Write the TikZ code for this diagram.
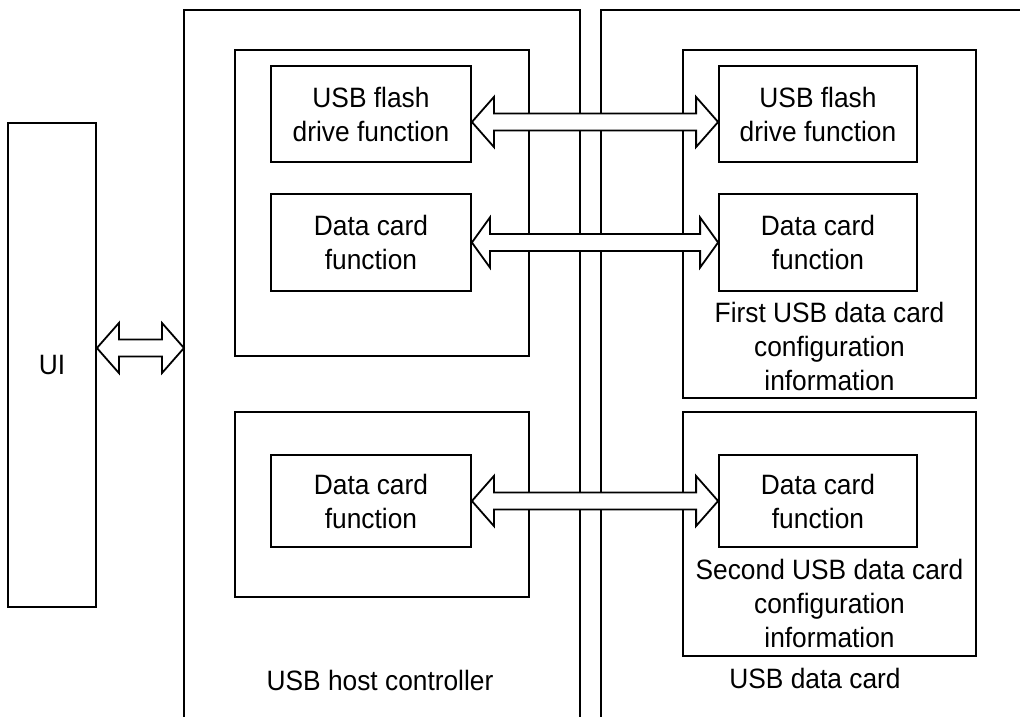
\documentclass[tikz,border=0pt]{standalone}
\usepackage{fontspec}
\setmainfont{Liberation Sans}[FakeStretch=0.94]
\usetikzlibrary{calc}
\def\ahl{22}
\def\ahw{25}
\def\asw{8.5}
\def\dblarrow(#1)(#2){\draw[arrowbody] (#1) -- ++(\ahl,-\ahw) -- ++(0,\ahw-\asw) -- ($(#2)+(-\ahl,-\asw)$) -- ++(0,\asw-\ahw) -- (#2) -- ++(-\ahl,\ahw) -- ++(0,\asw-\ahw) -- ($(#1)+(\ahl,\asw)$) -- ++(0,\ahw-\asw) -- cycle;}
\tikzset{
  frame/.style={line width=1.8pt},
  box/.style={draw, line width=1.8pt, inner sep=0pt, align=center},
  txt/.style={align=center, inner sep=0pt},
  arrowbody/.style={draw, fill=white, line width=1.8pt, line join=miter}
}
\begin{document}
\begin{tikzpicture}[x=1pt, y=-1pt, font=\fontsize{28}{34}\selectfont]
			%%%%% START %%%%%
			\useasboundingbox (0,0) rectangle (1020,716);
			\clip (0,0) rectangle (1020,716);
			
			% outer frames, open at the bottom
			\coordinate (hc sw) at (184,730);
			\coordinate (hc nw) at (184,10);
			\coordinate (hc ne) at (580,10);
			\coordinate (hc se) at (580,730);
			\coordinate (dc sw) at (601,730);
			\coordinate (dc nw) at (601,10);
			\coordinate (dc ne) at (1030,10);
			\draw[frame] (hc sw) -- (hc nw) -- (hc ne) -- (hc se);
			\draw[frame] (dc sw) -- (dc nw) -- (dc ne);
			
			\node[box, minimum width=88, minimum height=484] (ui) at (52,365) {UI};
			
			% host side
			\node[box, minimum width=294, minimum height=306] (hg1) at (382,203) {};
			\node[box, minimum width=200, minimum height=96] (hflash) at (371,114) {USB flash\\drive function};
			\node[box, minimum width=200, minimum height=97] (hdata1) at (371,242.5) {Data card\\function};
			\node[box, minimum width=294, minimum height=185] (hg2) at (382,504.5) {};
			\node[box, minimum width=200, minimum height=92] (hdata2) at (371,501) {Data card\\function};
			\node[txt] (hclabel) at (380,680) {USB host controller};
			
			% data card side
			\node[box, minimum width=293, minimum height=348] (dg1) at (829.5,224) {};
			\node[box, minimum width=198, minimum height=96] (dflash) at (818,114) {USB flash\\drive function};
			\node[box, minimum width=198, minimum height=97] (ddata1) at (818,242.5) {Data card\\function};
			\node[txt] (dcfg1) at (829.5,346) {First USB data card\\configuration\\information};
			\node[box, minimum width=293, minimum height=244] (dg2) at (829.5,534) {};
			\node[box, minimum width=198, minimum height=92] (ddata2) at (818,501) {Data card\\function};
			\node[txt] (dcfg2) at (829.5,603) {Second USB data card\\configuration\\information};
			\node[txt] (dclabel) at (815,678) {USB data card};
			
			% double arrows
			\coordinate (ar0a) at ($(ui.east)+(0,-17)$);
			\coordinate (ar0b) at (ar0a -| hc nw);
			\coordinate (ar1a) at ($(hflash.east)+(0,8)$);
			\coordinate (ar1b) at (ar1a -| dflash.west);
			\coordinate (ar2a) at (hdata1.east);
			\coordinate (ar2b) at (ar2a -| ddata1.west);
			\coordinate (ar3a) at (hdata2.east);
			\coordinate (ar3b) at (ar3a -| ddata2.west);
			\dblarrow(ar0a)(ar0b)
			\dblarrow(ar1a)(ar1b)
			{\def\ahl{18}\dblarrow(ar2a)(ar2b)}
			\dblarrow(ar3a)(ar3b)
			%%%%% END %%%%%
\end{tikzpicture}
\end{document}
